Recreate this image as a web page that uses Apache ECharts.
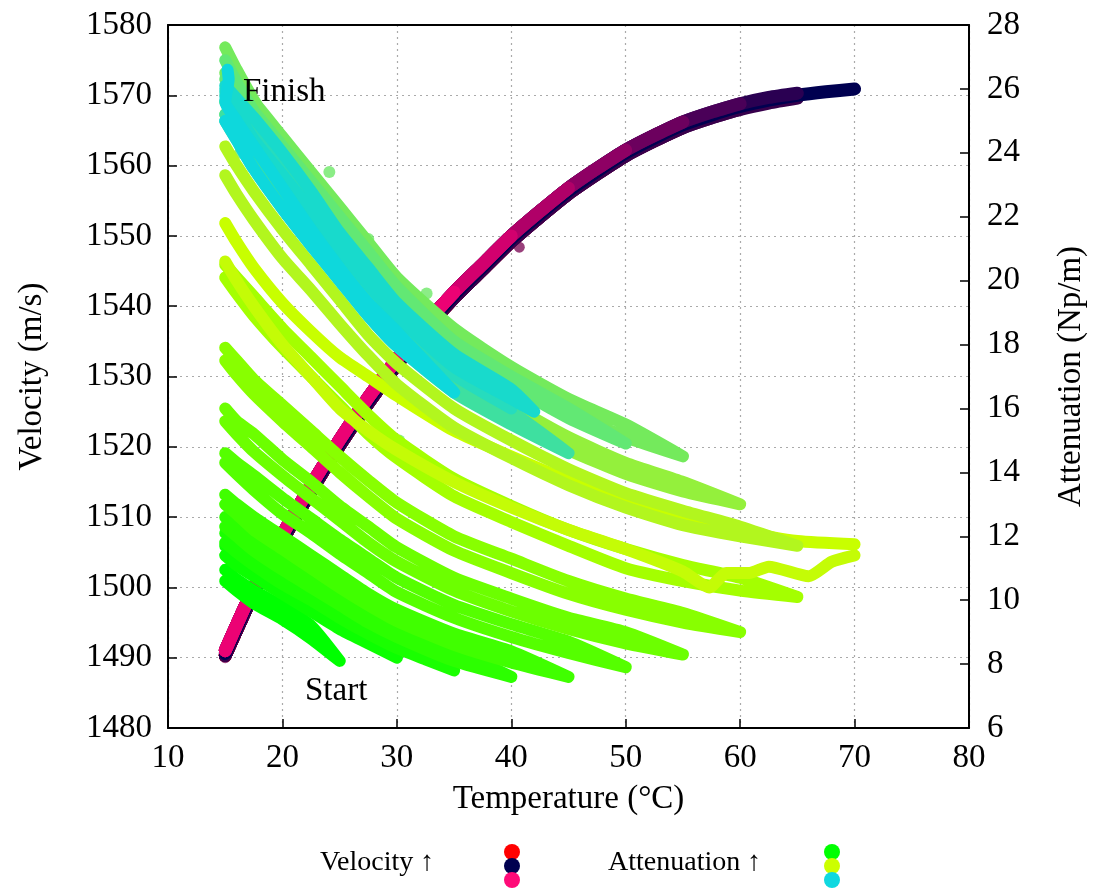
<!DOCTYPE html>
<html>
<head>
<meta charset="utf-8">
<script src="https://cdn.jsdelivr.net/npm/echarts@6/dist/echarts.min.js"></script>
<style>
  html, body { margin: 0; padding: 0; background: #fff; }
  #chart { width: 1096px; height: 888px; }
</style>
</head>
<body>
<div id="chart"></div>
<script>
// ---- axis ranges / ticks ----
const tempTicks = [10, 80, 10];          // min, max, step (°C)
const velTicks = [1480, 1580, 10];       // m/s
const attTicks = [6, 28, 2];             // Np/m

// ---- velocity (m/s) against temperature (°C) ----
const velTemps = [15, 17.5, 20, 22.5, 25, 27.5, 30, 32.5, 35, 37.5, 40, 42.5, 45, 47.5, 50, 52.5, 55, 57.5, 60, 62.5, 65, 67.5, 70];
const velocityHeating = [1490.3, 1499.2, 1506.7, 1513.7, 1520.2, 1526.2, 1531.7, 1536.7, 1541.2, 1545.2, 1549.2, 1552.7, 1556.0, 1558.8, 1561.4, 1563.5, 1565.4, 1566.8, 1568.0, 1568.9, 1569.6, 1570.1, 1570.4];
const velocityTop = [1490.6, 1499.6, 1507.1, 1514.1, 1520.6, 1526.6, 1532.1, 1537.1, 1541.6, 1545.6, 1549.6, 1553.1, 1556.4, 1559.2, 1561.8, 1563.9, 1565.8, 1567.2, 1568.4, 1569.3, 1570.0, 1570.5, 1570.9];
const velocityCooling = [1491.0, 1500.0, 1507.5, 1514.5, 1521.0, 1527.0, 1532.5, 1537.5, 1542.0, 1546.0, 1550.0, 1553.5, 1556.8, 1559.6, 1562.2, 1564.3, 1566.2, 1567.6, 1568.8, 1569.7, 1570.3, 1570.7, 1570.9];
const heatingMaxTemps = [25, 30, 35, 40, 45, 50, 55, 60, 65];
const coolingMaxTemps = [65, 60, 55, 50, 45, 40, 35];
const velocityStray = [[40.7, 1548.4], [15.0, 1490.0], [16.5, 1495.2], [18.2, 1503.0]];

// ---- attenuation (Np/m) runs, heating out to the peak then cooling back ----
const run01 = [[15,10.6],[16,10.3],[17.5,9.9],[20,9.4],[22.5,8.8],[25,8.1],[22.5,9.2],[20,9.8],[17.5,10.3],[16,10.65],[15,10.95]];
const run02 = [[15,11.4],[16,11.1],[17.5,10.75],[20,10.2],[22.5,9.65],[25,9.1],[27.5,8.65],[30,8.2],[27.5,8.95],[25,9.5],[22.5,10.05],[20,10.5],[17.5,11.05],[16,11.4],[15,11.7]];
const run03 = [[15,11.8],[16,11.5],[17.5,11.1],[20,10.5],[22.5,10.0],[25,9.45],[27.5,8.95],[30,8.5],[32.5,8.15],[35,7.8],[32.5,8.4],[30,8.8],[27.5,9.3],[25,9.8],[22.5,10.35],[20,10.9],[17.5,11.45],[16,11.8],[15,12.1]];
const run04 = [[15,12.3],[16,12.0],[17.5,11.55],[20,10.95],[22.5,10.4],[25,9.85],[27.5,9.3],[30,8.85],[35,8.1],[40,7.6],[35,8.45],[30,9.2],[27.5,9.7],[25,10.2],[22.5,10.8],[20,11.35],[17.5,11.9],[16,12.3],[15,12.6]];
const run05 = [[15,13.0],[16,12.7],[17.5,12.2],[20,11.6],[22.5,11.0],[25,10.4],[27.5,9.85],[30,9.35],[35,8.6],[40,8.05],[45,7.6],[40,8.4],[35,8.95],[30,9.7],[27.5,10.2],[25,10.8],[22.5,11.4],[20,12.0],[17.5,12.6],[16,13.0],[15,13.3]];
const run06 = [[15,14.3],[16,13.95],[17.5,13.45],[20,12.7],[22.5,12.1],[25,11.45],[27.5,10.85],[30,10.25],[35,9.45],[40,8.85],[45,8.35],[50,7.9],[45,8.7],[40,9.25],[35,9.85],[30,10.7],[27.5,11.3],[25,11.9],[22.5,12.55],[20,13.2],[17.5,13.9],[16,14.3],[15,14.6]];
const run07 = [[15,15.6],[16,15.2],[17.5,14.65],[20,13.9],[22.5,13.2],[25,12.5],[27.5,11.8],[30,11.2],[35,10.3],[40,9.65],[45,9.1],[50,8.65],[55,8.3],[50,9.0],[45,9.45],[40,10.05],[35,10.7],[30,11.65],[27.5,12.3],[25,12.95],[22.5,13.7],[20,14.4],[17.5,15.2],[16,15.6],[15,16.0]];
const run08 = [[15,17.5],[16,17.05],[17.5,16.45],[20,15.6],[22.5,14.8],[25,14.0],[27.5,13.25],[30,12.55],[35,11.55],[40,10.85],[45,10.2],[50,9.7],[55,9.3],[60,9.0],[55,9.6],[50,10.05],[45,10.6],[40,11.3],[35,12.0],[30,13.05],[27.5,13.75],[25,14.5],[22.5,15.3],[20,16.1],[17.5,16.9],[16,17.5],[15,17.9]];
const run09 = [[15,20.1],[16,19.6],[17.5,18.9],[20,17.9],[22.5,17.0],[25,16.1],[27.5,15.2],[30,14.45],[35,13.25],[40,12.45],[45,11.7],[50,11.0],[55,10.6],[60,10.3],[65,10.1],[60,10.7],[55,11.1],[50,11.6],[45,12.2],[40,12.95],[35,13.8],[30,15.0],[27.5,15.8],[25,16.7],[22.5,17.6],[20,18.5],[17.5,19.5],[16,20.1],[15,20.5]];
const run10 = [[15,21.8],[16,21.2],[17.5,20.4],[20,19.3],[22.5,18.4],[25,17.6],[27.5,17.0],[30,16.4],[35,15.3],[40,14.5],[45,13.75],[50,13.1],[55,12.55],[60,12.15],[65,11.85],[70,11.75]];
const run10b = [[70,11.4],[68,11.2],[66,10.75],[62.5,11.05],[60.8,10.85],[58.8,10.85],[57.3,10.4],[55,10.9],[50,11.6],[45,12.2],[40,12.9],[35,13.7],[30,14.7],[27.5,15.3],[25,16.0],[22.5,17.0],[20,18.0],[17.5,19.2],[16,20.0],[15,20.6]];
const run11 = [[15,23.3],[16,22.7],[17.5,21.9],[20,20.7],[22.5,19.7],[25,18.65],[27.5,17.65],[30,16.75],[35,15.4],[40,14.45],[45,13.6],[50,12.9],[55,12.35],[60,12.0],[65,11.7],[60,12.3],[55,12.8],[50,13.35],[45,14.1],[40,15.0],[35,16.0],[30,17.4],[27.5,18.3],[25,19.4],[22.5,20.5],[20,21.6],[17.5,22.8],[16,23.6],[15,24.2]];
const run12 = [[15,25.2],[16,24.6],[17.5,23.7],[20,22.4],[22.5,21.3],[25,20.15],[27.5,19.1],[30,18.1],[35,16.65],[40,15.6],[45,14.7],[50,13.95],[55,13.4],[60,13.0],[55,13.7],[50,14.3],[45,15.1],[40,16.1],[35,17.2],[30,18.7],[27.5,19.7],[25,20.8],[22.5,22.0],[20,23.1],[17.5,24.3],[16,25.0],[15,25.6]];
const run13 = [[15,27.3],[16,26.6],[17.5,25.65],[20,24.3],[22.5,23.05],[25,21.85],[27.5,20.65],[30,19.6],[35,18.0],[40,16.9],[45,15.9],[50,15.1],[55,14.5],[50,15.5],[45,16.3],[40,17.3],[35,18.5],[30,20.1],[27.5,21.2],[25,22.3],[22.5,23.4],[20,24.5],[17.5,25.6],[16,26.1],[15,26.5]];
const run14 = [[15,26.9],[16,26.2],[17.5,25.3],[20,23.9],[22.5,22.7],[25,21.5],[27.5,20.4],[30,19.3],[35,17.75],[40,16.7],[45,15.7],[50,14.9],[45,16.0],[40,17.0],[35,18.1],[30,19.8],[27.5,20.9],[25,22.0],[22.5,23.1],[20,24.2],[17.5,25.3],[16,25.9],[15,26.3]];
const run15 = [[15,25.0],[16,24.4],[17.5,23.5],[20,22.25],[22.5,21.1],[25,20.0],[27.5,18.9],[30,17.95],[35,16.5],[40,15.5],[45,14.6],[40,15.9],[35,16.9],[30,18.4],[27.5,19.4],[25,20.5],[22.5,21.6],[20,22.8],[17.5,24.0],[16,24.7],[15,25.2]];
const run16 = [[15,25.8],[16,25.2],[17.5,24.25],[20,22.95],[22.5,21.8],[25,20.65],[27.5,19.55],[30,18.5],[35,17.05],[40,16.0],[35,17.4],[30,19.0],[27.5,20.1],[25,21.2],[22.5,22.4],[20,23.6],[17.5,24.8],[16,25.4],[15,25.9]];
const run17 = [[15,26.0],[16,25.3],[17.5,24.4],[20,23.3],[22.5,22.2],[25,21.0],[27.5,19.9],[30,18.9],[35,17.3],[40,16.3],[42,15.9],[40,16.6],[35,17.7],[30,19.3],[27.5,20.4],[25,21.5],[22.5,22.8],[20,24.0],[17.5,25.1],[16,25.7],[15,26.1]];
const run18 = [[15,25.0],[16,24.4],[17.5,23.5],[20,22.25],[22.5,21.1],[25,20.0],[27.5,18.9],[30,17.95],[35,16.5],[30,18.4],[27.5,19.3],[25,20.4],[22.5,21.6],[20,22.9],[17.5,24.2],[16,25.0],[15,25.6],[15.3,26.3],[15.2,26.6]];
const attRuns = [run01, run02, run03, run04, run05, run06, run07, run08, run09, run10, run10b, run11, run12, run13, run14, run15, run16, run17, run18];
const attStray = [[21.7,23.5],[24.1,23.4],[27.5,21.3],[32.6,19.6],[36.5,17.4],[30.2,15.0],[16.3,24.0]];

// ---- text ----
const xTitle = 'Temperature (°C)';
const yTitle = 'Velocity (m/s)';
const y2Title = 'Attenuation (Np/m)';
const legendVel = 'Velocity ↑';
const legendAtt = 'Attenuation ↑';
const noteStart = 'Start';
const noteFinish = 'Finish';

// ---- styling ----
const FONT = '"Liberation Serif", "DejaVu Serif", serif';
const FS = 33;
const FS_LEG = 28;
const heatColors = ['#ff0000', '#e8001c', '#d00028', '#b80030', '#a00038', '#880040', '#700044', '#580048', '#38004c'];
const topColor = '#000050';
const coolColors = ['#2a0052', '#4a0058', '#6c005e', '#8e0064', '#b00068', '#d2006e', '#ec0274'];
const runColors = ['#00ff00', '#0cff00', '#1aff00', '#2cff00', '#40ff00', '#55ff00', '#6cff00', '#88ff00', '#a4ff00',
                   '#c8ff00', '#c4fc06', '#b2f61e', '#94f03c', '#74ea5c', '#62e874', '#3ee0a0', '#26dcbe', '#18dacc', '#0ed8dc'];

function velSlice(values, tmax) {
  const out = [];
  for (let i = 0; i < velTemps.length && velTemps[i] <= tmax; i++) out.push([velTemps[i], values[i]]);
  return out;
}

function bandSeries(data, color, yIndex, width) {
  return {
    type: 'line', data, yAxisIndex: yIndex, showSymbol: false, symbol: 'none',
    smooth: 0.2, silent: true, animation: false,
    lineStyle: { color, width, cap: 'round', join: 'round' }
  };
}

const series = [];
heatingMaxTemps.forEach((t, i) => series.push(bandSeries(velSlice(velocityHeating, t), heatColors[i], 0, 13)));
series.push(bandSeries(velSlice(velocityTop, 70), topColor, 0, 13));
coolingMaxTemps.forEach((t, i) => series.push(bandSeries(velSlice(velocityCooling, t), coolColors[i], 0, 13)));
series.push({
  type: 'scatter', yAxisIndex: 0, data: velocityStray, symbolSize: 11, silent: true, animation: false,
  itemStyle: { color: '#80105a' }
});
attRuns.forEach((run, i) => series.push(bandSeries(run, runColors[i], 1, 12)));
series.push({
  type: 'scatter', yAxisIndex: 1, data: attStray, symbolSize: 12, silent: true, animation: false,
  itemStyle: { color: '#6ee868' }
});

const chart = echarts.init(document.getElementById('chart'), null, { renderer: 'canvas' });

const axisText = { color: '#000', fontFamily: FONT, fontSize: FS };
const plain = v => String(v);
const gridDots = { show: true, lineStyle: { color: '#aaa', type: [2, 4], width: 1.2 } };
const inTicks = { show: true, inside: true, length: 9, lineStyle: { color: '#000', width: 1.5 } };
const frame = { show: true, lineStyle: { color: '#000', width: 2 } };

chart.setOption({
  backgroundColor: '#fff',
  animation: false,
  grid: { left: 168, right: 126, top: 25, bottom: 160 },
  xAxis: [{
    type: 'value', min: tempTicks[0], max: tempTicks[1], interval: tempTicks[2],
    name: xTitle, nameLocation: 'middle', nameGap: 55, nameTextStyle: axisText,
    axisLine: frame, axisTick: inTicks,
    axisLabel: Object.assign({ margin: 14, formatter: plain }, axisText),
    splitLine: gridDots
  }, {
    type: 'value', position: 'top', min: tempTicks[0], max: tempTicks[1], interval: tempTicks[2],
    axisLine: frame, axisTick: { show: false }, axisLabel: { show: false }, splitLine: { show: false }
  }],
  yAxis: [{
    type: 'value', min: velTicks[0], max: velTicks[1], interval: velTicks[2],
    name: yTitle, nameLocation: 'middle', nameRotate: 90, nameGap: 119, nameTextStyle: axisText,
    axisLine: frame, axisTick: inTicks,
    axisLabel: Object.assign({ margin: 16, formatter: plain }, axisText),
    splitLine: gridDots
  }, {
    type: 'value', position: 'right', min: attTicks[0], max: attTicks[1], interval: attTicks[2],
    name: y2Title, nameLocation: 'middle', nameRotate: 90, nameGap: 86, nameTextStyle: axisText,
    axisLine: frame, axisTick: inTicks,
    axisLabel: Object.assign({ margin: 18, formatter: plain }, axisText),
    splitLine: { show: false }
  }],
  series,
  graphic: [
    { type: 'text', left: 243, top: 76, z: 100, style: { text: noteFinish, font: FS + 'px ' + FONT, fill: '#000' } },
    { type: 'text', left: 305, top: 675, z: 100, style: { text: noteStart, font: FS + 'px ' + FONT, fill: '#000' } },
    { type: 'text', left: 320, top: 849, z: 100, style: { text: legendVel, font: FS_LEG + 'px ' + FONT, fill: '#000' } },
    { type: 'circle', shape: { cx: 512, cy: 852, r: 8 }, style: { fill: '#ff0000' }, z: 100 },
    { type: 'circle', shape: { cx: 512, cy: 866, r: 8 }, style: { fill: '#000050' }, z: 101 },
    { type: 'circle', shape: { cx: 512, cy: 880, r: 8 }, style: { fill: '#ff0a78' }, z: 102 },
    { type: 'text', left: 608, top: 849, z: 100, style: { text: legendAtt, font: FS_LEG + 'px ' + FONT, fill: '#000' } },
    { type: 'circle', shape: { cx: 832, cy: 852, r: 8 }, style: { fill: '#00ff00' }, z: 100 },
    { type: 'circle', shape: { cx: 832, cy: 866, r: 8 }, style: { fill: '#ccff00' }, z: 101 },
    { type: 'circle', shape: { cx: 832, cy: 880, r: 8 }, style: { fill: '#10d8e0' }, z: 102 }
  ]
});
</script>
</body>
</html>
